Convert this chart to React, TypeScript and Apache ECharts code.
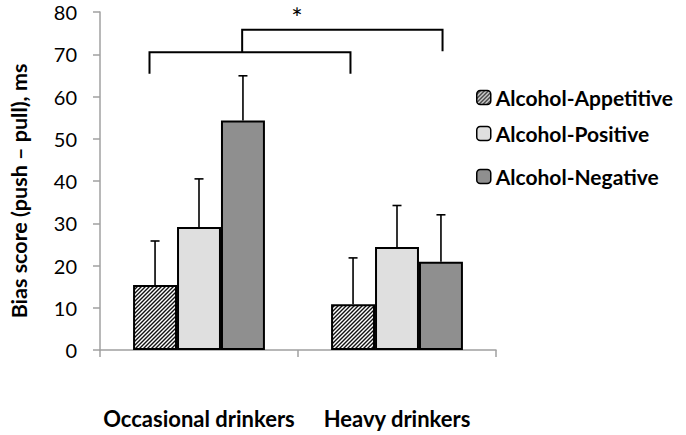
import React, { useEffect, useRef } from "react";
import * as echarts from "echarts";

const categories = ["Occasional drinkers", "Heavy drinkers"];
const seriesNames = ["Alcohol-Appetitive", "Alcohol-Positive", "Alcohol-Negative"];
const appetitive = [15.4, 10.8];
const positive = [29.1, 24.4];
const negative = [54.3, 20.9];
const appetitiveErr = [10.4, 11.0];
const positiveErr = [11.4, 9.8];
const negativeErr = [10.6, 11.1];
const yMin = 0;
const yMax = 80;
const yStep = 10;

// significance brackets (x in category units relative to first category, y in data units)
const bracketLeft = [-0.25, 0.218];
const bracketRight = [0.765, 1.23];
const bracketTop = [70.5, 75.8];
const bracketLeftEnd = [65.4, 70.5];
const bracketRightEnd = [65.4, 70.7];
const starText = "*";
const starX = 0.495;
const starY = 78.8;

const FONT = "Lato";
const BAR_FRAC = 0.222;

function makeHatch(): HTMLCanvasElement {
  const c = document.createElement("canvas");
  c.width = 4;
  c.height = 4;
  const ctx = c.getContext("2d")!;
  ctx.fillStyle = "#ffffff";
  ctx.fillRect(0, 0, 4, 4);
  ctx.strokeStyle = "#111";
  ctx.lineWidth = 1.4;
  ctx.beginPath();
  ctx.moveTo(0, 4);
  ctx.lineTo(4, 0);
  ctx.moveTo(-1, 1);
  ctx.lineTo(1, -1);
  ctx.moveTo(3, 5);
  ctx.lineTo(5, 3);
  ctx.stroke();
  return c;
}

export default function App() {
  const ref = useRef<HTMLDivElement>(null);
  useEffect(() => {
    if (!ref.current) return;
    const chart = echarts.init(ref.current, null, { renderer: "svg" });
    const hatch = makeHatch();
    const colors: any[] = [
      { image: hatch, repeat: "repeat", imageWidth: 4, imageHeight: 4 },
      "#dfdfdf",
      "#8f8f8f",
    ];
    const values = [appetitive, positive, negative];
    const errs = [appetitiveErr, positiveErr, negativeErr];

    const barSeries = values.map((vals, i) => ({
      type: "bar",
      name: seriesNames[i],
      data: vals,
      barWidth: BAR_FRAC * 100 + "%",
      barGap: "0%",
      itemStyle: { color: colors[i], borderColor: "#000", borderWidth: 2 },
      z: 2,
    }));

    const errSeries = values.map((vals, i) => ({
      type: "custom",
      clip: false,
      z: 3,
      encode: { x: 0, y: 1 },
      data: vals.map((v, j) => [j, v, errs[i][j]]),
      renderItem: (params: any, api: any) => {
        const cat = api.value(0);
        const v = api.value(1);
        const e = api.value(2);
        const bw = api.size([1, 0])[0];
        const barW = bw * BAR_FRAC;
        const base = api.coord([cat, v]);
        const x = base[0] + (i - 1) * barW;
        const top = api.coord([cat, v + e])[1];
        const st = { stroke: "#000", lineWidth: 1.6 };
        return {
          type: "group",
          children: [
            { type: "line", shape: { x1: x, y1: base[1], x2: x, y2: top }, style: st },
            { type: "line", shape: { x1: x - 4.5, y1: top, x2: x + 4.5, y2: top }, style: st },
          ],
        };
      },
    }));

    const bracketSeries = {
      type: "custom",
      clip: false,
      z: 4,
      encode: { x: 0, y: 1 },
      data: [[0, 0]],
      renderItem: (params: any, api: any) => {
        const c0 = api.coord([0, 0])[0];
        const bw = api.size([1, 0])[0];
        const children: any[] = bracketLeft.map((l, k) => {
          const xl = c0 + l * bw;
          const xr = c0 + bracketRight[k] * bw;
          const yt = api.coord([0, bracketTop[k]])[1];
          const yl = api.coord([0, bracketLeftEnd[k]])[1];
          const yr = api.coord([0, bracketRightEnd[k]])[1];
          return {
            type: "polyline",
            shape: { points: [[xl, yl], [xl, yt], [xr, yt], [xr, yr]] },
            style: { stroke: "#000", lineWidth: 2, fill: "none" },
          };
        });
        children.push({
          type: "text",
          x: c0 + starX * bw,
          y: api.coord([0, starY])[1],
          style: {
            text: starText,
            fontFamily: FONT,
            fontSize: 27,
            fill: "#000",
            align: "center",
            verticalAlign: "middle",
          },
        });
        return { type: "group", children };
      },
    };

    const legendTops = [82, 118, 161];
    chart.setOption({
      animation: false,
      grid: { left: 95, right: 190, top: 12, bottom: 85, containLabel: false },
      legend: seriesNames.map((n, i) => ({
        data: [n],
        left: 476,
        top: legendTops[i],
        orient: "vertical",
        itemWidth: 14,
        itemHeight: 14,
        itemGap: 0,
        padding: [5, 0, 5, 0],
        selectedMode: false,
        itemStyle: { borderWidth: 1.5 },
        textStyle: { fontFamily: FONT, fontWeight: "bold", fontSize: 21, color: "#000" },
      })),
      xAxis: {
        type: "category",
        data: categories,
        axisLine: { lineStyle: { color: "#a0a0a0", width: 1.5 } },
        axisTick: { show: true, length: 7, lineStyle: { color: "#a0a0a0", width: 1.5 } },
        axisLabel: {
          interval: 0,
          margin: 57,
          fontFamily: FONT,
          fontWeight: "bold",
          fontSize: 22,
          color: "#000",
        },
      },
      yAxis: {
        type: "value",
        min: yMin,
        max: yMax,
        interval: yStep,
        name: "Bias score (push \u2013 pull), ms",
        nameLocation: "middle",
        nameGap: 70,
        nameTextStyle: {
          fontFamily: FONT,
          fontWeight: "bold",
          fontSize: 21.5,
          color: "#000",
          padding: [0, 20, 0, 0],
        },
        axisLine: { show: true, lineStyle: { color: "#a0a0a0", width: 1.5 } },
        axisTick: { show: true, length: 7, lineStyle: { color: "#a0a0a0", width: 1.5 } },
        splitLine: { show: false },
        axisLabel: { margin: 23, fontFamily: FONT, fontSize: 20, color: "#000" },
      },
      series: [...barSeries, ...errSeries, bracketSeries],
    });
    return () => chart.dispose();
  }, []);
  return (
    <div
      ref={ref}
      style={{ position: "fixed", left: 0, top: 0, width: 686, height: 435, background: "#fff" }}
    />
  );
}
